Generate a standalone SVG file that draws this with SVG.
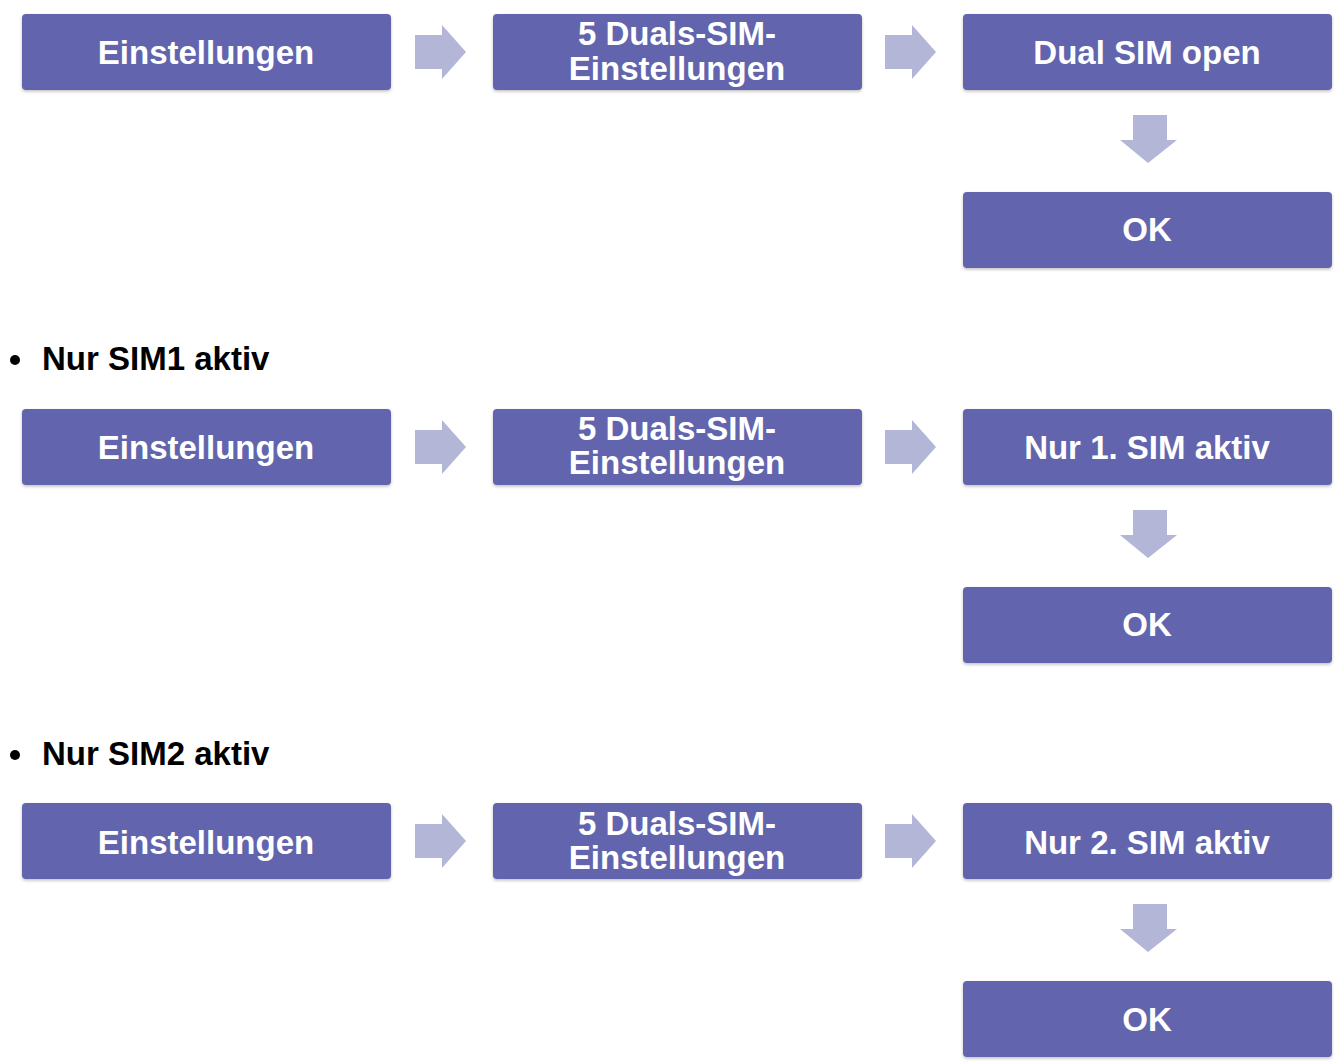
<svg xmlns="http://www.w3.org/2000/svg" width="1339" height="1062" viewBox="0 0 1339 1062">
<defs>
<filter id="sh" x="-5%" y="-10%" width="110%" height="130%">
<feDropShadow dx="0" dy="1.5" stdDeviation="1.5" flood-color="#000" flood-opacity="0.25"/>
</filter>
<g id="ra"><path d="M0,-17 H27 V-27 L51,0 L27,27 V17 H0 Z"/></g>
<g id="da"><path d="M-15,-25 H19 V0 H29 L0,23 L-28,0 H-15 Z"/></g>
</defs>
<style>
.box{fill:#6265ad;filter:url(#sh)}
.t{font-family:"Liberation Sans",Arial,sans-serif;font-weight:bold;font-size:33px;fill:#fff;text-anchor:middle}
.h{font-family:"Liberation Sans",Arial,sans-serif;font-weight:bold;font-size:33px;fill:#000}
.arr{fill:#b4b6d8}
</style>
<rect width="1339" height="1062" fill="#fff"/>

<g id="row1">
<g id="n1a"><rect class="box" x="22" y="14" width="369" height="76" rx="4"/><text class="t" x="206" y="64">Einstellungen</text></g>
<g id="n1b"><rect class="box" x="493" y="14" width="369" height="76" rx="4"/><text class="t" x="677" y="45">5 Duals-SIM-</text><text class="t" x="677" y="80">Einstellungen</text></g>
<g id="n1c"><rect class="box" x="963" y="14" width="369" height="76" rx="4"/><text class="t" x="1147" y="64">Dual SIM open</text></g>
<g id="n1d"><rect class="box" x="963" y="192" width="369" height="76" rx="4"/><text class="t" x="1147" y="241">OK</text></g>
</g>

<g id="head2"><circle cx="15" cy="360" r="5" fill="#000"/><text class="h" x="42" y="370">Nur SIM1 aktiv</text></g>

<g id="row2">
<g id="n2a"><rect class="box" x="22" y="409" width="369" height="76" rx="4"/><text class="t" x="206" y="459">Einstellungen</text></g>
<g id="n2b"><rect class="box" x="493" y="409" width="369" height="76" rx="4"/><text class="t" x="677" y="440">5 Duals-SIM-</text><text class="t" x="677" y="474">Einstellungen</text></g>
<g id="n2c"><rect class="box" x="963" y="409" width="369" height="76" rx="4"/><text class="t" x="1147" y="459">Nur 1. SIM aktiv</text></g>
<g id="n2d"><rect class="box" x="963" y="587" width="369" height="76" rx="4"/><text class="t" x="1147" y="636">OK</text></g>
</g>

<g id="head3"><circle cx="15" cy="755" r="5" fill="#000"/><text class="h" x="42" y="765">Nur SIM2 aktiv</text></g>

<g id="row3">
<g id="n3a"><rect class="box" x="22" y="803" width="369" height="76" rx="4"/><text class="t" x="206" y="854">Einstellungen</text></g>
<g id="n3b"><rect class="box" x="493" y="803" width="369" height="76" rx="4"/><text class="t" x="677" y="835">5 Duals-SIM-</text><text class="t" x="677" y="869">Einstellungen</text></g>
<g id="n3c"><rect class="box" x="963" y="803" width="369" height="76" rx="4"/><text class="t" x="1147" y="854">Nur 2. SIM aktiv</text></g>
<g id="n3d"><rect class="box" x="963" y="981" width="369" height="76" rx="4"/><text class="t" x="1147" y="1031">OK</text></g>
</g>

<g id="connectors" class="arr">
<use href="#ra" x="415" y="52"/>
<use href="#ra" x="885" y="52"/>
<use href="#da" x="1148" y="140"/>
<use href="#ra" x="415" y="447"/>
<use href="#ra" x="885" y="447"/>
<use href="#da" x="1148" y="535"/>
<use href="#ra" x="415" y="841"/>
<use href="#ra" x="885" y="841"/>
<use href="#da" x="1148" y="929"/>
</g>
</svg>
